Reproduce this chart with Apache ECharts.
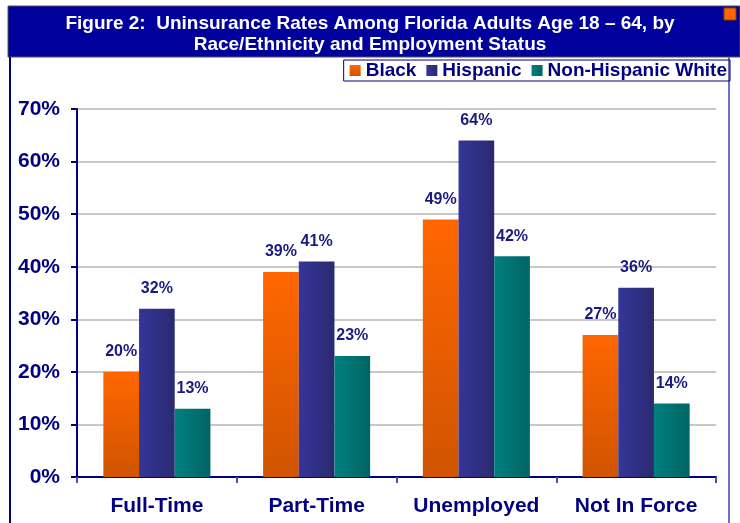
<!DOCTYPE html>
<html>
<head>
<meta charset="utf-8">
<script src="https://cdn.jsdelivr.net/npm/echarts@6/dist/echarts.min.js"></script>
<style>
  html, body { margin: 0; padding: 0; background: #fff; }
  #container { width: 740px; height: 523px; }
</style>
</head>
<body>
<div id="container"></div>
<script>
var categories = ['Full-Time', 'Part-Time', 'Unemployed', 'Not In Force'];
var black = [20, 39, 49, 27];
var hispanic = [32, 41, 64, 36];
var white = [13, 23, 42, 14];
var yTicks = [0, 70, 10]; // min, max, step

var sans = 'Arial, "Liberation Sans", sans-serif';
var navy = '#000080';

var ec = echarts.init(document.getElementById('container'));

function lbl() {
    return {
        show: true,
        position: 'top',
        distance: 12,
        formatter: '{c}%',
        color: '#1a1a80',
        fontFamily: sans,
        fontWeight: 'bold',
        fontSize: 16
    };
}

var option = {
    animation: false,
    title: {
        text: 'Figure 2:  Uninsurance Rates Among Florida Adults Age 18 \u2013 64, by\nRace/Ethnicity and Employment Status',
        left: 'center',
        top: 8,
        textStyle: {
            color: '#fff',
            fontFamily: sans,
            fontWeight: 'bold',
            fontSize: 19,
            lineHeight: 21
        }
    },
    graphic: [
        {type: 'rect', z: 0, shape: {x: 8, y: 6, width: 732, height: 51}, style: {fill: '#00009c', stroke: '#555', lineWidth: 1}},
        {type: 'rect', z: 1, shape: {x: 724, y: 8, width: 12, height: 12}, style: {fill: '#ff6600', stroke: '#884400', lineWidth: 1}},
        {type: 'line', z: 1, shape: {x1: 10, y1: 57, x2: 10, y2: 523}, style: {stroke: navy, lineWidth: 2}},
        {type: 'line', z: 1, shape: {x1: 729, y1: 57, x2: 729, y2: 523}, style: {stroke: '#7070c0', lineWidth: 2}}
    ],
    legend: {
        data: ['Black', 'Hispanic', 'Non-Hispanic White'],
        right: 10,
        top: 60,
        icon: 'rect',
        itemWidth: 11,
        itemHeight: 11,
        itemGap: 10,
        padding: [1, 3, 1, 6],
        borderColor: navy,
        borderWidth: 1,
        textStyle: {
            color: navy,
            fontFamily: sans,
            fontWeight: 'bold',
            fontSize: 19
        }
    },
    grid: {left: 77, right: 24, top: 109, bottom: 46},
    xAxis: {
        type: 'category',
        data: categories,
        axisLine: {lineStyle: {color: navy, width: 2}},
        axisTick: {show: true, interval: 0, length: 6, lineStyle: {color: '#5050a0', width: 2}},
        axisLabel: {
            interval: 0,
            color: navy,
            fontFamily: sans,
            fontWeight: 'bold',
            fontSize: 21,
            margin: 19
        }
    },
    yAxis: {
        type: 'value',
        min: yTicks[0],
        max: yTicks[1],
        interval: yTicks[2],
        axisLine: {show: true, lineStyle: {color: navy, width: 2}},
        axisTick: {show: true, length: 6, lineStyle: {color: navy, width: 2}},
        splitLine: {lineStyle: {color: '#c8c8c8', width: 2}},
        axisLabel: {
            formatter: '{value}%',
            color: navy,
            fontFamily: sans,
            fontWeight: 'bold',
            fontSize: 21,
            margin: 17
        }
    },
    series: [
        {
            name: 'Black',
            type: 'bar',
            data: black,
            barGap: 0,
            barCategoryGap: '33%',
            itemStyle: {
                color: new echarts.graphic.LinearGradient(0, 0, 0, 1, [
                    {offset: 0, color: '#ff6600'},
                    {offset: 1, color: '#d05400'}
                ])
            },
            label: lbl()
        },
        {
            name: 'Hispanic',
            type: 'bar',
            data: hispanic,
            itemStyle: {
                color: new echarts.graphic.LinearGradient(0, 0, 1, 0, [
                    {offset: 0, color: '#35359a'},
                    {offset: 1, color: '#2a2a70'}
                ])
            },
            label: lbl()
        },
        {
            name: 'Non-Hispanic White',
            type: 'bar',
            data: white,
            itemStyle: {
                color: new echarts.graphic.LinearGradient(0, 0, 1, 0, [
                    {offset: 0, color: '#008080'},
                    {offset: 1, color: '#006464'}
                ])
            },
            label: lbl()
        }
    ]
};

ec.setOption(option);
</script>
</body>
</html>
